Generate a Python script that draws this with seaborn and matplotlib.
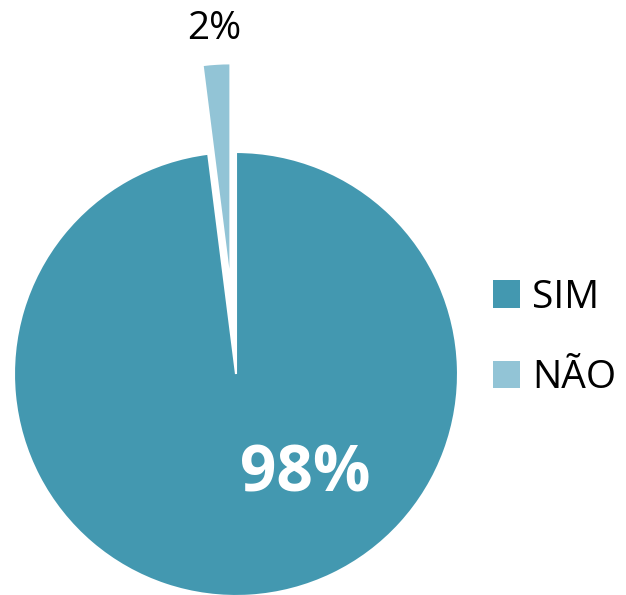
import matplotlib
matplotlib.use("Agg")
import matplotlib.pyplot as plt
import seaborn as sns
from matplotlib.patches import Patch

# data
labels = ["SIM", "NÃO"]
values = [98, 2]
pct_labels = ["98%", "2%"]
colors = ["#4398B0", "#92C4D6"]

sns.set_theme(style="white")
plt.rcParams["font.family"] = ["Open Sans", "DejaVu Sans"]
plt.rcParams["text.color"] = "black"

fig = plt.figure(figsize=(6.26, 5.95), dpi=100)
ax = fig.add_axes([0, 0, 1, 1])

# pie in pixel-like data units (explode is absolute in matplotlib)
cx, cy, r = 236, 221, 222
wedges, _ = ax.pie(
    values,
    colors=colors,
    startangle=90,
    counterclock=False,
    explode=[0, 0.4 * r],
    radius=r,
    center=(cx, cy),
    wedgeprops=dict(edgecolor="white", linewidth=1.5),
)
ax.set_xlim(0, 626)
ax.set_ylim(0, 595)
ax.axis("off")

# percentage labels
ax.text(305, 120, pct_labels[0], color="white", fontsize=46, fontweight="bold",
        ha="center", va="center")
ax.text(214, 566, pct_labels[1], color="black", fontsize=28,
        ha="center", va="center")

# legend
handles = [Patch(facecolor=c, edgecolor="none") for c in colors]
leg = fig.legend(handles, labels, loc="center left", bbox_to_anchor=(493 / 626, 1 - 338 / 595),
                 frameon=False, fontsize=28, handlelength=0.7, handleheight=0.7,
                 handletextpad=0.3, labelspacing=1.1, borderaxespad=0, borderpad=0)
for t in leg.get_texts():
    t.set_color("black")

plt.savefig("out.png", dpi=100)
plt.close()
